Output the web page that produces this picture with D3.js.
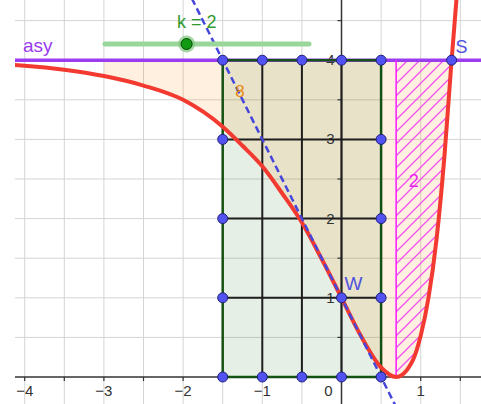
<!DOCTYPE html>
<head>
  <meta charset="utf-8">
  <style>
    body { margin: 0; background: #fff; }
    #plot { display: block; font-family: 'Liberation Sans', Arial, sans-serif; }
  </style>
  <script src="https://cdn.jsdelivr.net/npm/d3@7"></script>
</head>
<body>

<svg id=plot width="481" height="404"></svg>

<script>
// red graph, points
const curveX = [-4.15, -4, -3.5, -3, -2.5, -2, -1.5, -1.25, -1, -0.75, -0.5, -0.25, 0, 0.25, 0.5, 0.69, 0.9, 1.0, 1.1, 1.2, 1.3, 1.39, 1.45, 1.5]
const curveY = [3.94, 3.93, 3.88, 3.80, 3.68, 3.50, 3.16, 2.92, 2.66, 2.32, 1.95, 1.49, 1.00, 0.51, 0.12, 0.00, 0.21, 0.52, 1.01, 1.74, 2.79, 4.00, 4.75, 5.50]

// dashed tangent through W
const tangentX = [-2.2, 1.2]
const tangentY = [5.4, -1.4]

const asyY = 4
const areaFrom = -3      // left end of the shaded region
const minX = 0.69        // magenta line
const sX = 1.39          // S

const rectX = [-1.5, 0.5]
const rectY = [0, 4]
const innerX = [-1, -0.5, 0]
const innerY = [1, 2, 3]

const xTicks = [-4, -3, -2, -1, 0, 1]
const xTickLabels = ['\u22124', '\u22123', '\u22122', '\u22121', '0', '1']
const yTicks = [1, 2, 3, 4]
const gridX = [-4, -3.5, -3, -2.5, -2, -1.5, -1, -0.5, 0.5, 1, 1.5]
const gridY = [0.5, 1, 1.5, 2, 2.5, 3, 3.5, 4, 4.5]
const minorX = [-4, -3.5, -3, -2.5, -2, -1.5, -1, -0.5, 0.5, 1, 1.5]
const minorY = [0.5, 1, 1.5, 2, 2.5, 3, 3.5, 4, 4.5]

const k = 2
const kDomain = [0, 5]

const svg = d3.select('#plot')
const W = +svg.attr('width'), H = +svg.attr('height')

const x = d3.scaleLinear().domain([-4, 1]).range([24.7, 420.7])
const y = d3.scaleLinear().domain([0, 4]).range([377, 60.2])

const defs = svg.append('defs')
defs.append('clipPath').attr('id', 'view')
  .append('rect').attr('x', 15).attr('y', 0).attr('width', W - 15).attr('height', H)
const hatch = defs.append('pattern').attr('id', 'hatch')
  .attr('patternUnits', 'userSpaceOnUse').attr('width', 12).attr('height', 12)
hatch.append('path').attr('d', 'M0,12L12,0M-3,3L3,-3M9,15L15,9')
  .attr('stroke', '#f050f0').attr('stroke-width', 1.3)

const g = svg.append('g').attr('clip-path', 'url(#view)')

// grid
g.append('g').selectAll('line').data(gridX).join('line')
  .attr('x1', d => x(d)).attr('x2', d => x(d)).attr('y1', 0).attr('y2', H)
  .attr('stroke', '#d4d4d4').attr('stroke-width', 1)
g.append('g').selectAll('line').data(gridY).join('line')
  .attr('x1', 0).attr('x2', W).attr('y1', d => y(d)).attr('y2', d => y(d))
  .attr('stroke', '#d4d4d4').attr('stroke-width', 1)

const pts = curveX.map((v, i) => [v, curveY[i]])
const area = d3.area().x(d => x(d[0])).y0(y(asyY)).y1(d => y(d[1])).curve(d3.curveMonotoneX)

// green rectangle fill
g.append('rect')
  .attr('x', x(rectX[0])).attr('y', y(rectY[1]))
  .attr('width', x(rectX[1]) - x(rectX[0])).attr('height', y(rectY[0]) - y(rectY[1]))
  .attr('fill', 'rgb(0,100,0)').attr('fill-opacity', 0.1)

// integral region between asymptote and graph
g.append('path')
  .datum(pts.filter(d => d[0] >= areaFrom && d[0] <= sX))
  .attr('d', area)
  .attr('fill', 'rgb(255,128,0)').attr('fill-opacity', 0.12)

// hatched part
g.append('path')
  .datum(pts.filter(d => d[0] >= minX && d[0] <= sX))
  .attr('d', area)
  .attr('fill', 'url(#hatch)')

// axes
g.append('line').attr('x1', 0).attr('x2', W).attr('y1', y(0)).attr('y2', y(0))
  .attr('stroke', '#333').attr('stroke-width', 1.5)
g.append('line').attr('x1', x(0)).attr('x2', x(0)).attr('y1', 0).attr('y2', H)
  .attr('stroke', '#333').attr('stroke-width', 1.5)
g.append('g').selectAll('line').data(minorX).join('line')
  .attr('x1', d => x(d)).attr('x2', d => x(d)).attr('y1', y(0)).attr('y2', y(0) + 4)
  .attr('stroke', '#333').attr('stroke-width', 1.2)
g.append('g').selectAll('line').data(minorY).join('line')
  .attr('x1', x(0) - 4).attr('x2', x(0)).attr('y1', d => y(d)).attr('y2', d => y(d))
  .attr('stroke', '#333').attr('stroke-width', 1.2)

// axis labels
g.append('g').selectAll('text').data(xTicks).join('text')
  .attr('x', (d, i) => d === 0 ? x(d) - 13 : x(d))
  .attr('y', y(0) + 19)
  .attr('text-anchor', 'middle').attr('font-size', 15).attr('fill', '#333')
  .text((d, i) => xTickLabels[i])
g.append('g').selectAll('text').data(yTicks).join('text')
  .attr('x', x(0) - 7).attr('y', d => y(d) + 5)
  .attr('text-anchor', 'end').attr('font-size', 15).attr('fill', '#333')
  .text(d => d)

// asymptote
g.append('line').attr('x1', 0).attr('x2', W).attr('y1', y(asyY)).attr('y2', y(asyY))
  .attr('stroke', '#9b3cf0').attr('stroke-width', 3.5)

// rectangle grid lines
g.append('g').selectAll('line').data(innerX).join('line')
  .attr('x1', d => x(d)).attr('x2', d => x(d)).attr('y1', y(rectY[0])).attr('y2', y(rectY[1]))
  .attr('stroke', '#1e1e1e').attr('stroke-width', 2)
g.append('g').selectAll('line').data(innerY).join('line')
  .attr('x1', x(rectX[0])).attr('x2', x(rectX[1])).attr('y1', d => y(d)).attr('y2', d => y(d))
  .attr('stroke', '#1e1e1e').attr('stroke-width', 2)
g.append('rect')
  .attr('x', x(rectX[0])).attr('y', y(rectY[1]))
  .attr('width', x(rectX[1]) - x(rectX[0])).attr('height', y(rectY[0]) - y(rectY[1]))
  .attr('fill', 'none').attr('stroke', '#145214').attr('stroke-width', 2.5)

// magenta border of hatched part
g.append('line').attr('x1', x(minX)).attr('x2', x(minX)).attr('y1', y(0)).attr('y2', y(asyY))
  .attr('stroke', '#ff22ff').attr('stroke-width', 1.6)

// graph
g.append('path').datum(pts)
  .attr('d', d3.line().x(d => x(d[0])).y(d => y(d[1])).curve(d3.curveMonotoneX))
  .attr('fill', 'none').attr('stroke', '#f23a30').attr('stroke-width', 4)

// tangent
g.append('line')
  .attr('x1', x(tangentX[0])).attr('y1', y(tangentY[0]))
  .attr('x2', x(tangentX[1])).attr('y2', y(tangentY[1]))
  .attr('stroke', '#4646dc').attr('stroke-width', 2.5).attr('stroke-dasharray', '7,4')

// points
const dots = []
rectX.forEach(px => [0, ...innerY, 4].forEach(py => dots.push([px, py])))
innerX.forEach(px => rectY.forEach(py => dots.push([px, py])))
dots.push([0, 1], [sX, asyY])
g.append('g').selectAll('circle').data(dots).join('circle')
  .attr('cx', d => x(d[0])).attr('cy', d => y(d[1])).attr('r', 5)
  .attr('fill', '#5252f0').attr('stroke', '#1f1f7a').attr('stroke-width', 1)

// slider
const s = d3.scaleLinear().domain(kDomain).range([105, 309])
svg.append('line').attr('x1', s(kDomain[0])).attr('x2', s(kDomain[1])).attr('y1', 44).attr('y2', 44)
  .attr('stroke', '#9ad69a').attr('stroke-width', 5).attr('stroke-linecap', 'round')
svg.append('circle').attr('cx', s(k)).attr('cy', 44).attr('r', 8.5).attr('fill', '#7cc47c').attr('opacity', 0.7)
svg.append('circle').attr('cx', s(k)).attr('cy', 44).attr('r', 5.5)
  .attr('fill', '#119911').attr('stroke', '#004d00').attr('stroke-width', 1)
svg.append('text').attr('x', 177).attr('y', 28).attr('font-size', 18).attr('fill', '#2f9a2f')
  .text(`k = ${k}`)

// labels
svg.append('text').attr('x', 23).attr('y', 52).attr('font-size', 19).attr('fill', '#9b3cf0').text('asy')
svg.append('text').attr('x', x(sX) + 4).attr('y', y(asyY) - 7).attr('font-size', 18).attr('fill', '#5050e0').text('S')
svg.append('text').attr('x', x(0) + 3).attr('y', y(1) - 8).attr('font-size', 19).attr('fill', '#5050e0').text('W')
svg.append('text').attr('x', x(0.85)).attr('y', y(2.4)).attr('font-size', 18).attr('fill', '#ee22ee').text('2')
svg.append('text').attr('x', x(-1.34)).attr('y', y(3.53)).attr('font-size', 17).attr('fill', '#e8890c').text('8')
</script>

</body>
